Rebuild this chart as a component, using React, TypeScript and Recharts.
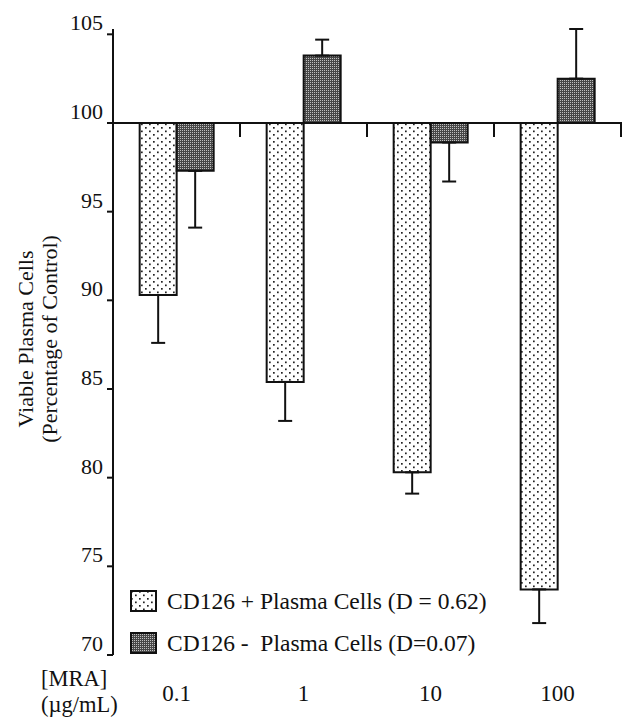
import { Bar, BarChart, ErrorBar, Legend, ReferenceLine, XAxis, YAxis } from 'recharts'

const doses = ['0.1', '1', '10', '100']
const cd126Pos = [90.3, 85.4, 80.3, 73.7]
const cd126PosErr = [2.7, 2.2, 1.2, 1.9]
const cd126Neg = [97.3, 103.8, 98.9, 102.5]
const cd126NegErr = [3.2, 0.9, 2.2, 2.8]
const yTicks = [70, 75, 80, 85, 90, 95, 100, 105]

const CONTROL = 100
const FONT = '"Liberation Serif", "Times New Roman", serif'
const INK = '#111'

// error bars only point away from the control level
const oneSided = (v: number, e: number) => (v < CONTROL ? [e, 0] : [0, e])

// bars hang from / rise above 100, so plot the difference to control
const data = doses.map((dose, i) => ({
  dose,
  pos: +(cd126Pos[i] - CONTROL).toFixed(2),
  posErr: oneSided(cd126Pos[i], cd126PosErr[i]),
  neg: +(cd126Neg[i] - CONTROL).toFixed(2),
  negErr: oneSided(cd126Neg[i], cd126NegErr[i]),
}))

function Patterns({ suffix = '' }: { suffix?: string }) {
  return (
    <defs>
      <pattern id={`dots${suffix}`} width={8} height={7} patternUnits="userSpaceOnUse">
        <rect width={8} height={7} fill="#fff" />
        <rect x={1} y={1} width={1.7} height={1.7} fill="#222" />
        <rect x={5} y={4.5} width={1.7} height={1.7} fill="#222" />
      </pattern>
      <pattern id={`stipple${suffix}`} width={2} height={2} patternUnits="userSpaceOnUse">
        <rect width={2} height={2} fill="#474747" />
        <rect x={0} y={0} width={1} height={1} fill="#c0c0c0" />
      </pattern>
    </defs>
  )
}

function Swatch({ kind }: { kind: string }) {
  const id = kind === 'pos' ? 'dots-lg' : 'stipple-lg'
  return (
    <svg width={27} height={22} style={{ display: 'block' }}>
      <Patterns suffix="-lg" />
      <rect x={1} y={1} width={25} height={20} fill={`url(#${id})`} stroke={INK} strokeWidth={2} />
    </svg>
  )
}

function LegendContent(props: any) {
  const payload = props.payload ?? []
  return (
    <div style={{ fontFamily: FONT, fontSize: 23.5, color: INK }}>
      {payload.map((entry: any) => (
        <div key={entry.value} style={{ display: 'flex', alignItems: 'center', height: 42 }}>
          <Swatch kind={entry.dataKey} />
          <span style={{ marginLeft: 10, whiteSpace: 'pre' }}>{entry.value}</span>
        </div>
      ))}
    </div>
  )
}

function YTick(props: any) {
  const { x, y, payload } = props
  return (
    <text x={x} y={y - 4} textAnchor="end" fontFamily={FONT} fontSize={22} fill={INK}>
      {payload.value + CONTROL}
    </text>
  )
}

function XTick(props: any) {
  const { x, y, payload } = props
  return (
    <text x={x} y={y + 46} textAnchor="middle" fontFamily={FONT} fontSize={23} fill={INK}>
      {payload.value}
    </text>
  )
}

function YTitle(props: any) {
  const vb = props.viewBox ?? { x: 0, y: 0, height: 0 }
  const cy = vb.y + vb.height / 2 - 3
  return (
    <g fontFamily={FONT} fontSize={22} fill={INK} textAnchor="middle">
      <text x={vb.x + 33} y={cy} transform={`rotate(-90 ${vb.x + 33} ${cy})`}>
        Viable Plasma Cells
      </text>
      <text x={vb.x + 57} y={cy} transform={`rotate(-90 ${vb.x + 57} ${cy})`}>
        (Percentage of Control)
      </text>
    </g>
  )
}

function XTitle(props: any) {
  const vb = props.viewBox ?? { x: 0, y: 0 }
  return (
    <g fontFamily={FONT} fontSize={22.5} fill={INK}>
      <text x={vb.x - 72} y={vb.y + 31}>[MRA]</text>
      <text x={vb.x - 72} y={vb.y + 57}>(µg/mL)</text>
    </g>
  )
}

// control line at 100 with the category tick marks hanging from it
function ControlLine(props: any) {
  const { x1, y1, x2 } = props
  const step = (x2 - x1) / doses.length
  return (
    <g stroke={INK} strokeWidth={2}>
      <line x1={x1} y1={y1} x2={x2 + 1} y2={y1} />
      {doses.map((d, i) => {
        const x = x1 + step * (i + 1)
        return <line key={d} x1={x} x2={x} y1={y1} y2={y1 + 14} />
      })}
    </g>
  )
}

export default function App() {
  return (
    <div style={{ position: 'absolute', left: 0, top: 0, background: '#fff' }}>
      <BarChart
        width={630}
        height={719}
        data={data}
        margin={{ top: 29, right: 9, bottom: 0, left: 0 }}
        barCategoryGap="21%"
        barGap={0}
      >
        <Patterns />
        <XAxis
          dataKey="dose"
          height={64}
          axisLine={false}
          tickLine={false}
          tickSize={0}
          tickMargin={0}
          tick={<XTick />}
          label={<XTitle />}
        />
        <YAxis
          width={113}
          type="number"
          domain={[yTicks[0] - CONTROL, yTicks[yTicks.length - 1] - CONTROL]}
          ticks={yTicks.map((t) => t - CONTROL)}
          axisLine={{ stroke: INK, strokeWidth: 2 }}
          tickLine={{ stroke: INK, strokeWidth: 2 }}
          tickSize={6}
          tickMargin={4}
          tick={<YTick />}
          label={<YTitle />}
        />
        <Legend
          layout="horizontal"
          verticalAlign="middle"
          align="center"
          content={<LegendContent />}
          wrapperStyle={{ left: 130, top: 580, width: 'auto' }}
        />
        <Bar
          dataKey="pos"
          name="CD126 + Plasma Cells (D = 0.62)"
          fill="url(#dots)"
          stroke={INK}
          strokeWidth={2}
          isAnimationActive={false}
        >
          <ErrorBar dataKey="posErr" width={7} stroke={INK} strokeWidth={2} />
        </Bar>
        <Bar
          dataKey="neg"
          name="CD126 -  Plasma Cells (D=0.07)"
          fill="url(#stipple)"
          stroke={INK}
          strokeWidth={2}
          isAnimationActive={false}
        >
          <ErrorBar dataKey="negErr" width={7} stroke={INK} strokeWidth={2} />
        </Bar>
        <ReferenceLine y={0} shape={<ControlLine />} />
      </BarChart>
    </div>
  )
}
